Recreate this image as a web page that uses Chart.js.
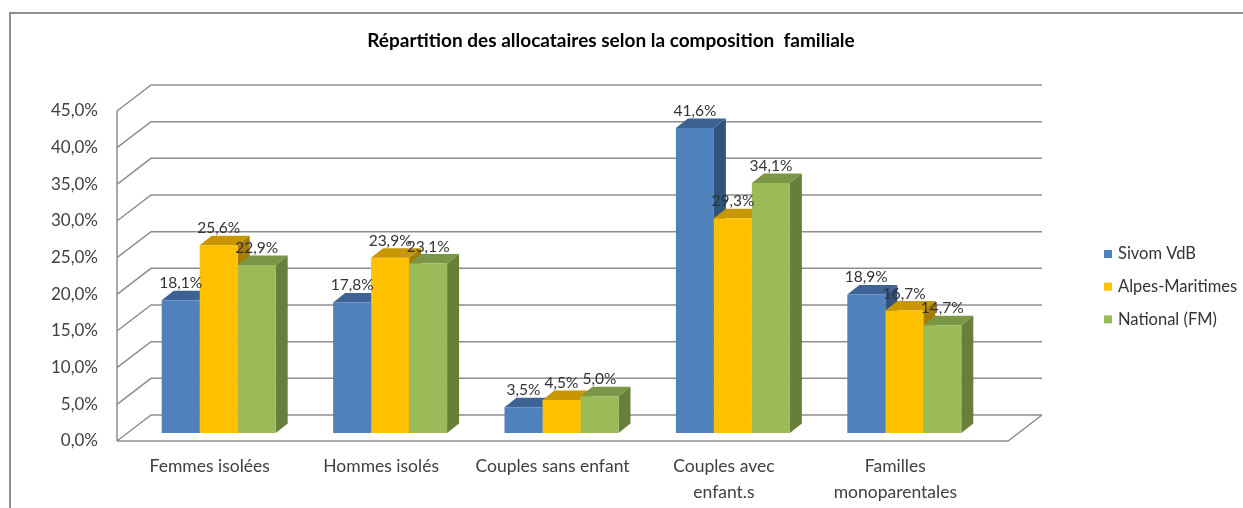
<!DOCTYPE html>
<html>
<head>
<meta charset="utf-8">
<script src="https://cdn.jsdelivr.net/npm/chart.js@4/dist/chart.umd.min.js"></script>
<style>
  body { margin: 0; background: #fff; }
  #wrap { position: relative; width: 1243px; height: 508px; overflow: hidden; }
  #frame { position: absolute; left: 9px; top: 12px; width: 1300px; height: 600px;
           border-left: 2px solid #8e8e8e; border-top: 2px solid #8e8e8e; }
  canvas { position: absolute; left: 0; top: 0; }
</style>
</head>
<body>
<div id="wrap">
  <div id="frame"></div>
  <canvas id="ChartCanvas" width="1243" height="508"></canvas>
</div>
<script>
const title = 'Répartition des allocataires selon la composition  familiale';
const categories = ['Femmes isolées', 'Hommes isolés', 'Couples sans enfant', ['Couples avec', 'enfant.s'], ['Familles', 'monoparentales']];
const sivom = [18.1, 17.8, 3.5, 41.6, 18.9];
const alpes = [25.6, 23.9, 4.5, 29.3, 16.7];
const national = [22.9, 23.1, 5.0, 34.1, 14.7];
const seriesNames = ['Sivom VdB', 'Alpes-Maritimes', 'National (FM)'];
const yMax = 45;
const yStep = 5;

const FONT = 'Lato, "Open Sans", sans-serif';
const fronts = ['#4f81bd', '#ffc000', '#9bbb59'];
const tops = ['#3c6393', '#c79600', '#7a9747'];
const sides = ['#31537c', '#a67d00', '#66803a'];

const fmt = v => v.toFixed(1).replace('.', ',') + '%';

// 3D look: the bars sit on a plane, the back wall and the front edge are offset from it
const depth = { dx: 12, dy: -9.5 };
const front = { dx: -10, dy: 8 };
const back = { dx: 24, dy: -18 };

const threeD = {
  id: 'threeD',
  beforeDatasetsDraw: chart => {
    const ctx = chart.ctx;
    const a = chart.chartArea;
    const x = chart.scales.x, y = chart.scales.y;
    const L = a.left - 6, R = a.right + 28;
    const y0 = y.getPixelForValue(0);
    ctx.save();
    ctx.strokeStyle = '#8e8e8e';
    ctx.lineWidth = 1.5;
    ctx.beginPath();
    y.ticks.forEach(t => {
      const yy = y.getPixelForValue(t.value);
      ctx.moveTo(L + front.dx, yy + front.dy);
      ctx.lineTo(L + back.dx, yy + back.dy);
      ctx.lineTo(R + back.dx, yy + back.dy);
    });
    // left wall front edge
    ctx.moveTo(L + front.dx, y0 + front.dy);
    ctx.lineTo(L + front.dx, y.getPixelForValue(yMax) + front.dy);
    // floor front + right edge
    ctx.moveTo(L + front.dx, y0 + front.dy);
    ctx.lineTo(R + front.dx, y0 + front.dy);
    ctx.lineTo(R + back.dx, y0 + back.dy);
    ctx.stroke();

    // y tick labels
    ctx.fillStyle = '#404040';
    ctx.font = '17px ' + FONT;
    ctx.textAlign = 'right';
    ctx.textBaseline = 'middle';
    y.ticks.forEach(t => {
      const yy = y.getPixelForValue(t.value);
      ctx.fillText(fmt(t.value), L + front.dx - 19, yy + front.dy);
    });

    // category labels
    ctx.textAlign = 'center';
    ctx.font = '17.5px ' + FONT;
    categories.forEach((c, i) => {
      const lines = Array.isArray(c) ? c : [c];
      const cx = x.getPixelForTick(i) - 9;
      lines.forEach((ln, j) => ctx.fillText(ln, cx, y0 + 33 + j * 26));
    });

    // tops and sides of the bars, fronts come from Chart.js
    chart.data.datasets.forEach((ds, di) => {
      chart.getDatasetMeta(di).data.forEach(el => {
        const p = el.getProps(['x', 'y', 'base', 'width'], true);
        const l = p.x - p.width / 2, r = p.x + p.width / 2;
        ctx.fillStyle = tops[di];
        ctx.beginPath();
        ctx.moveTo(l, p.y);
        ctx.lineTo(r, p.y);
        ctx.lineTo(r + depth.dx, p.y + depth.dy);
        ctx.lineTo(l + depth.dx, p.y + depth.dy);
        ctx.closePath();
        ctx.fill();
        ctx.fillStyle = sides[di];
        ctx.beginPath();
        ctx.moveTo(r, p.y);
        ctx.lineTo(r + depth.dx, p.y + depth.dy);
        ctx.lineTo(r + depth.dx, p.base + depth.dy);
        ctx.lineTo(r, p.base);
        ctx.closePath();
        ctx.fill();
      });
    });
    ctx.restore();
  },
  afterDatasetsDraw: chart => {
    const ctx = chart.ctx;
    ctx.save();
    ctx.fillStyle = '#333';
    ctx.font = '15.5px ' + FONT;
    ctx.textAlign = 'center';
    ctx.textBaseline = 'middle';
    chart.data.datasets.forEach((ds, di) => {
      chart.getDatasetMeta(di).data.forEach((el, i) => {
        const p = el.getProps(['x', 'y'], true);
        ctx.fillText(fmt(ds.data[i]), p.x, p.y - 17);
      });
    });

    // title
    ctx.fillStyle = '#000';
    ctx.font = 'bold 19px ' + FONT;
    ctx.fillText(title, 611, 41);

    // legend
    ctx.font = '16.5px ' + FONT;
    ctx.textAlign = 'left';
    chart.data.datasets.forEach((ds, di) => {
      const ly = 254 + di * 32.7;
      ctx.fillStyle = ds.backgroundColor;
      ctx.fillRect(1104, ly - 4, 8, 8);
      ctx.fillStyle = '#333';
      ctx.fillText(ds.label, 1118, ly);
    });
    ctx.restore();
  }
};

new Chart(document.getElementById('ChartCanvas'), {
  type: 'bar',
  data: {
    labels: categories,
    datasets: [sivom, alpes, national].map((d, i) => ({
      label: seriesNames[i],
      data: d,
      backgroundColor: fronts[i],
      borderWidth: 0,
      categoryPercentage: 0.665,
      barPercentage: 1
    }))
  },
  options: {
    responsive: false,
    animation: false,
    layout: { padding: { left: 133, right: 253, top: 103, bottom: 75 } },
    scales: {
      x: { display: false },
      y: { display: false, min: 0, max: yMax, ticks: { stepSize: yStep } }
    },
    plugins: {
      legend: { display: false },
      tooltip: { enabled: false }
    }
  },
  plugins: [threeD]
});
</script>
</body>
</html>
